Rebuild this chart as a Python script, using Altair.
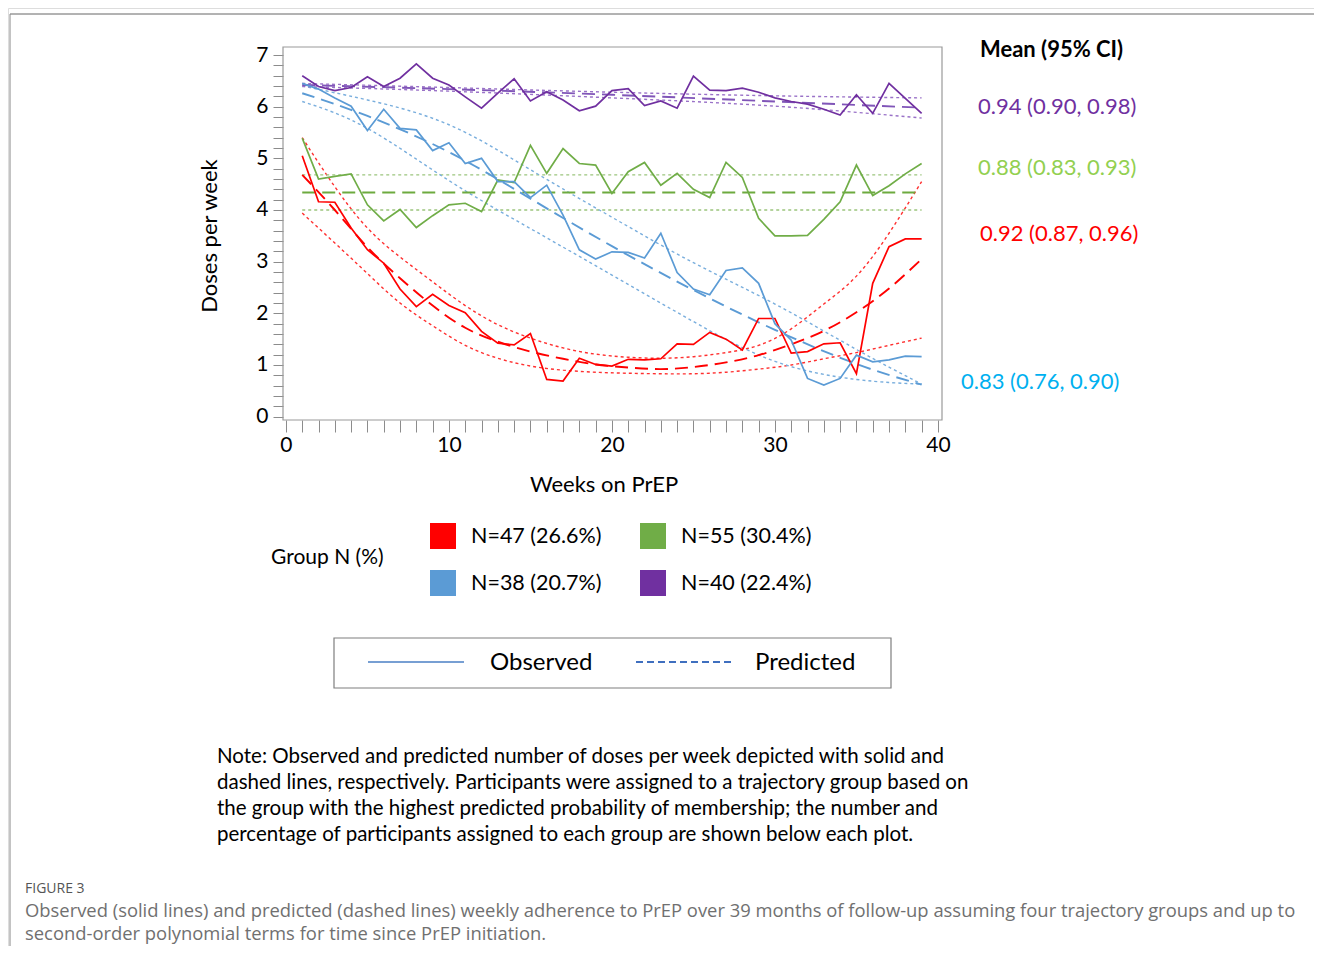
import altair as alt
import pandas as pd

# ---------------- data ----------------
weeks = list(range(1, 40))

obs_red = [5.05, 4.16, 4.15, 3.65, 3.23, 2.97, 2.47, 2.13, 2.37, 2.15,
           2.01, 1.65, 1.42, 1.39, 1.61, 0.72, 0.69, 1.13, 1.01, 0.98,
           1.11, 1.10, 1.12, 1.41, 1.40, 1.63, 1.50, 1.29, 1.90, 1.90,
           1.23, 1.26, 1.41, 1.43, 0.83, 2.58, 3.29, 3.44, 3.44]
obs_green = [5.39, 4.60, 4.65, 4.70, 4.10, 3.79, 4.01, 3.66, 3.89, 4.10,
             4.13, 3.97, 4.58, 4.53, 5.25, 4.71, 5.19, 4.90, 4.87, 4.32,
             4.74, 4.92, 4.48, 4.71, 4.40, 4.24, 4.92, 4.63, 3.84, 3.50,
             3.50, 3.51, 3.82, 4.16, 4.87, 4.28, 4.47, 4.70, 4.90]
obs_blue = [6.45, 6.34, 6.17, 6.01, 5.54, 5.95, 5.58, 5.55, 5.15, 5.30,
            4.90, 5.00, 4.55, 4.55, 4.24, 4.48, 3.90, 3.23, 3.05, 3.19,
            3.18, 3.07, 3.55, 2.79, 2.47, 2.36, 2.83, 2.88, 2.58, 1.80,
            1.48, 0.74, 0.61, 0.74, 1.19, 1.06, 1.10, 1.17, 1.16]
obs_purple = [6.60, 6.39, 6.31, 6.37, 6.58, 6.39, 6.55, 6.83, 6.55, 6.42,
              6.19, 5.97, 6.26, 6.54, 6.11, 6.29, 6.13, 5.92, 6.01, 6.31,
              6.35, 6.02, 6.11, 5.97, 6.59, 6.32, 6.31, 6.36, 6.28, 6.17,
              6.10, 6.05, 5.95, 5.84, 6.23, 5.87, 6.45, 6.16, 5.87]

# predicted curves (value, upper, lower) read at a few weeks
pw_red = [1, 3, 5, 7, 9, 11, 13, 15, 17, 19, 21, 23, 25, 27, 29, 31, 33, 35, 37, 39]
pred_red = [4.68, 4.00, 3.28, 2.68, 2.15, 1.72, 1.45, 1.26, 1.12, 1.01,
            0.95, 0.92, 0.96, 1.05, 1.19, 1.40, 1.66, 2.02, 2.48, 3.05]
up_red = [5.40, 4.45, 3.65, 3.09, 2.61, 2.15, 1.78, 1.52, 1.33, 1.21,
          1.15, 1.13, 1.16, 1.24, 1.38, 1.70, 2.18, 2.72, 3.55, 4.55]
lo_red = [3.94, 3.36, 2.77, 2.20, 1.76, 1.38, 1.13, 0.98, 0.90, 0.86,
          0.84, 0.83, 0.83, 0.86, 0.92, 1.00, 1.12, 1.24, 1.38, 1.52]

pw_green = [1, 39]
pred_green = [4.34, 4.34]
up_green = [4.68, 4.68]
lo_green = [4.00, 4.00]

pw_blue = [1, 5, 10, 15, 20, 25, 30, 35, 39]
pred_blue = [6.26, 5.82, 5.12, 4.22, 3.30, 2.45, 1.68, 1.02, 0.62]
up_blue = [6.40, 6.13, 5.65, 4.78, 3.86, 2.98, 2.18, 1.30, 0.63]
lo_blue = [6.10, 5.58, 4.57, 3.64, 2.74, 1.84, 1.07, 0.72, 0.63]

pw_purple = [1, 10, 20, 30, 39]
pred_purple = [6.42, 6.34, 6.23, 6.10, 5.98]
up_purple = [6.45, 6.37, 6.28, 6.21, 6.17]
lo_purple = [6.39, 6.30, 6.17, 6.01, 5.78]

group_labels = ["N=47 (26.6%)", "N=55 (30.4%)", "N=38 (20.7%)", "N=40 (22.4%)"]
ci_labels = ["0.92 (0.87, 0.96)", "0.88 (0.83, 0.93)", "0.83 (0.76, 0.90)", "0.94 (0.90, 0.98)"]

x_ticks = list(range(0, 41))
y_ticks = [round(0.2 * i, 1) for i in range(36)]

note_lines = [
    "Note: Observed and predicted number of doses per week depicted with solid and",
    "dashed lines, respectively. Participants were assigned to a trajectory group based on",
    "the group with the highest predicted probability of membership; the number and",
    "percentage of participants assigned to each group are shown below each plot.",
]
caption_lines = [
    "Observed (solid lines) and predicted (dashed lines) weekly adherence to PrEP over 39 months of follow-up assuming four trajectory groups and up to",
    "second-order polynomial terms for time since PrEP initiation.",
]

# ---------------- styling ----------------
FONT = "Lato"
W, H = 1306, 938
XS = alt.Scale(domain=[-0.18, 40.25], range=[275, 934], nice=False, zero=False)
YS = alt.Scale(domain=[-0.065, 7.155], range=[412, 39], nice=False, zero=False)
XAXIS = alt.Axis(values=x_ticks, labelExpr="datum.value % 10 == 0 ? format(datum.value, 'd') : ''",
                 tickSize=12, tickColor="#8c8c8c", domain=False, grid=False,
                 labelFontSize=21, labelFont=FONT, labelColor="#000000", labelPadding=2,
                 labelOverlap=False, labelFlush=False, offset=-526, title=None)
YAXIS = alt.Axis(values=y_ticks, labelExpr="datum.value % 1 == 0 ? format(datum.value, 'd') : ''",
                 tickSize=10, tickColor="#8c8c8c", domain=False, grid=False,
                 labelFontSize=21, labelFont=FONT, labelColor="#000000", labelPadding=5,
                 labelOverlap=False, labelFlush=False, offset=-275, title=None)

one = pd.DataFrame({"a": [0]})


def xenc():
    return alt.X("week:Q", scale=XS, axis=XAXIS)


def yenc():
    return alt.Y("value:Q", scale=YS, axis=YAXIS)


series = [
    (obs_red, pw_red, pred_red, up_red, lo_red, "#FF0000", "#FF0000", "#FF3030"),
    (obs_green, pw_green, pred_green, up_green, lo_green, "#70AD47", "#6DAA3F", "#9CC57E"),
    (obs_blue, pw_blue, pred_blue, up_blue, lo_blue, "#5B9BD5", "#5B9BD5", "#79AEDD"),
    (obs_purple, pw_purple, pred_purple, up_purple, lo_purple, "#7030A0", "#8055B8", "#9A72C8"),
]

layers = []

# frame of plot
layers.append(alt.Chart(one).mark_rect(fillOpacity=0, stroke="#9a9a9a", strokeWidth=1.2).encode(
    x=alt.value(275), x2=alt.value(934), y=alt.value(39), y2=alt.value(412)))

ci_layers, pred_layers, obs_layers = [], [], []
for obs, pw, pr, up, lo, c_obs, c_pred, c_ci in series:
    ci_df = pd.DataFrame({"week": pw + pw, "value": up + lo,
                          "bound": ["upper"] * len(pw) + ["lower"] * len(pw)})
    ci_layers.append(alt.Chart(ci_df).mark_line(
        color=c_ci, strokeWidth=1.4, strokeDash=[3, 3], interpolate="natural").encode(
        x=xenc(), y=yenc(), detail="bound:N"))
    pr_df = pd.DataFrame({"week": pw, "value": pr})
    pred_layers.append(alt.Chart(pr_df).mark_line(
        color=c_pred, strokeWidth=1.9, strokeDash=[13, 7], interpolate="natural").encode(
        x=xenc(), y=yenc()))
    ob_df = pd.DataFrame({"week": weeks, "value": obs})
    obs_layers.append(alt.Chart(ob_df).mark_line(
        color=c_obs, strokeWidth=1.7).encode(x=xenc(), y=yenc()))

layers += ci_layers + pred_layers + obs_layers


def text(t, x, y, size=21, color="#000000", align="left", weight="normal", font=FONT, angle=0):
    kw = dict(align=align, baseline="middle", fontSize=size, font=font, color=color,
              fontWeight=weight)
    if angle:
        kw["angle"] = angle
    return alt.Chart(pd.DataFrame({"t": [t]})).mark_text(**kw).encode(
        x=alt.value(x), y=alt.value(y), text="t:N")


# axis titles
layers.append(text("Doses per week", 202, 228, size=22, align="center", angle=270))
layers.append(text("Weeks on PrEP", 596, 477, size=22, align="center"))

# right-side annotations
layers.append(text("Mean (95% CI)", 972, 42, size=22, weight="bold"))
layers.append(text(ci_labels[3], 970, 99, size=22, color="#7030A0"))
layers.append(text(ci_labels[1], 970, 160, size=22, color="#92D050"))
layers.append(text(ci_labels[0], 972, 226, size=22, color="#FF0000"))
layers.append(text(ci_labels[2], 953, 374, size=22, color="#00B0F0"))

# group legend
layers.append(text("Group N (%)", 263, 550, size=21))
swatches = [(422, 515, "#FF0000"), (632, 515, "#70AD47"), (422, 562, "#5B9BD5"), (632, 562, "#7030A0")]
label_pos = [(463, 529), (673, 529), (463, 576), (673, 576)]
for i, (sx, sy, sc) in enumerate(swatches):
    layers.append(alt.Chart(one).mark_rect(color=sc).encode(
        x=alt.value(sx), x2=alt.value(sx + 26), y=alt.value(sy), y2=alt.value(sy + 26)))
    layers.append(text(group_labels[i], label_pos[i][0], label_pos[i][1], size=21.5))

# line-style legend
layers.append(alt.Chart(one).mark_rect(fillOpacity=0, stroke="#7f7f7f", strokeWidth=1.2).encode(
    x=alt.value(326), x2=alt.value(883), y=alt.value(630), y2=alt.value(680)))
layers.append(alt.Chart(one).mark_rule(color="#4A7FC4", strokeWidth=1.6).encode(
    x=alt.value(360), x2=alt.value(456), y=alt.value(654)))
layers.append(alt.Chart(one).mark_rule(color="#3F6FBF", strokeWidth=1.8, strokeDash=[7, 4]).encode(
    x=alt.value(628), x2=alt.value(725), y=alt.value(654)))
layers.append(text("Observed", 482, 655, size=24))
layers.append(text("Predicted", 747, 655, size=24))

# note
for i, ln in enumerate(note_lines):
    layers.append(text(ln, 209, 749 + 26 * i, size=20.5))

# page decorations and caption
layers.append(alt.Chart(one).mark_rule(color="#666666", strokeWidth=1).encode(
    x=alt.value(2), x2=alt.value(1306), y=alt.value(6)))
layers.append(alt.Chart(one).mark_rule(color="#888888", strokeWidth=1).encode(
    x=alt.value(2), y=alt.value(6), y2=alt.value(938)))
layers.append(text("FIGURE 3", 17, 881, size=14, color="#555555", font="Open Sans"))
for i, ln in enumerate(caption_lines):
    layers.append(text(ln, 17, 903 + 23 * i, size=18.4, color="#707070", font="Open Sans"))

chart = alt.layer(*layers).properties(
    width=W, height=H, autosize=alt.AutoSizeParams(type="none"), padding=0
).configure_view(stroke="transparent").configure(background="#ffffff")

chart.save("out.html", embed_options={"renderer": "svg", "actions": False})
